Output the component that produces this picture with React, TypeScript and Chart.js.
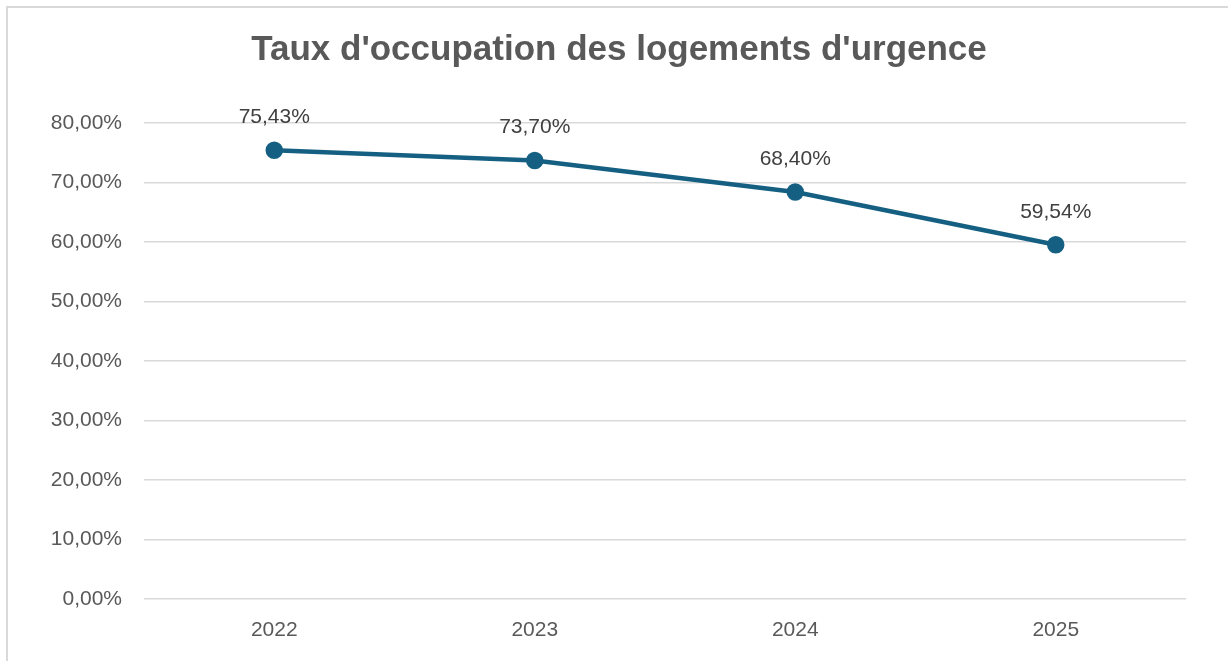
import React, { useEffect, useRef } from "react";
import { Chart, registerables } from "chart.js";

Chart.register(...registerables);

const categories: string[] = ["2022", "2023", "2024", "2025"];
const occupationRates: number[] = [75.43, 73.7, 68.4, 59.54];
const yTicks: number[] = [0, 10, 20, 30, 40, 50, 60, 70, 80];
const chartTitle = "Taux d'occupation des logements d'urgence";

const fmt = (v: number) => v.toFixed(2).replace(".", ",") + "%";

const FONT = "'Liberation Sans', Arial, sans-serif";

const dataLabelPlugin = {
  id: "dataLabels",
  afterDatasetsDraw(chart: any) {
    const ctx = chart.ctx;
    const meta = chart.getDatasetMeta(0);
    const data = chart.data.datasets[0].data as number[];
    ctx.save();
    ctx.font = `21px ${FONT}`;
    ctx.fillStyle = "#404040";
    ctx.textAlign = "center";
    ctx.textBaseline = "middle";
    meta.data.forEach((pt: any, i: number) => {
      ctx.fillText(fmt(data[i]), pt.x, pt.y - 33);
    });
    ctx.restore();
  },
};

const titlePlugin = {
  id: "centeredTitle",
  afterDraw(chart: any) {
    const ctx = chart.ctx;
    ctx.save();
    ctx.font = `bold 35px ${FONT}`;
    ctx.fillStyle = "#595959";
    ctx.textAlign = "center";
    ctx.textBaseline = "middle";
    ctx.fillText(chartTitle, chart.width / 2 + 1, 42);
    ctx.restore();
  },
};

export default function App() {
  const canvasRef = useRef<HTMLCanvasElement | null>(null);

  useEffect(() => {
    if (!canvasRef.current) return;
    const chart = new Chart(canvasRef.current, {
      type: "line",
      data: {
        labels: categories,
        datasets: [
          {
            data: occupationRates,
            borderColor: "#156082",
            backgroundColor: "#156082",
            borderWidth: 4.5,
            pointRadius: 6.5,
            pointHoverRadius: 6.5,
            pointBackgroundColor: "#156082",
            pointBorderColor: "#156082",
            tension: 0,
            clip: false as any,
          },
        ],
      },
      options: {
        animation: false,
        responsive: false,
        maintainAspectRatio: false,
        layout: { padding: { left: 0, right: 42, top: 115, bottom: 0 } },
        plugins: {
          legend: { display: false },
          tooltip: { enabled: false },
          title: { display: false },
        },
        scales: {
          x: {
            offset: true,
            grid: { display: false, drawTicks: false },
            border: { display: false },
            ticks: {
              color: "#595959",
              font: { family: FONT, size: 21 },
              padding: 19,
            },
            afterFit: (scale: any) => {
              scale.height = 62;
            },
          },
          y: {
            min: 0,
            max: 80,
            afterBuildTicks: (scale: any) => {
              scale.ticks = yTicks.map((v) => ({ value: v }));
            },
            grid: { color: "#d9d9d9", lineWidth: 1.5, drawTicks: false },
            border: { display: false },
            ticks: {
              color: "#595959",
              font: { family: FONT, size: 21 },
              padding: 22,
              callback: (v: any) => fmt(Number(v)),
            },
            afterFit: (scale: any) => {
              scale.width = 136;
            },
          },
        },
      },
      plugins: [dataLabelPlugin, titlePlugin],
    });
    return () => chart.destroy();
  }, []);

  return (
    <div
      style={{
        position: "fixed",
        left: 0,
        top: 0,
        width: 1228,
        height: 661,
        overflow: "hidden",
        background: "#ffffff",
      }}
    >
      <div
        style={{
          position: "absolute",
          left: 6,
          top: 6,
          width: 1300,
          height: 700,
          borderLeft: "2px solid #d9d9d9",
          borderTop: "2px solid #d9d9d9",
          boxSizing: "border-box",
        }}
      />
      <canvas
        ref={canvasRef}
        width={1220}
        height={653}
        style={{ position: "absolute", left: 8, top: 8, width: 1220, height: 653 }}
      />
    </div>
  );
}
